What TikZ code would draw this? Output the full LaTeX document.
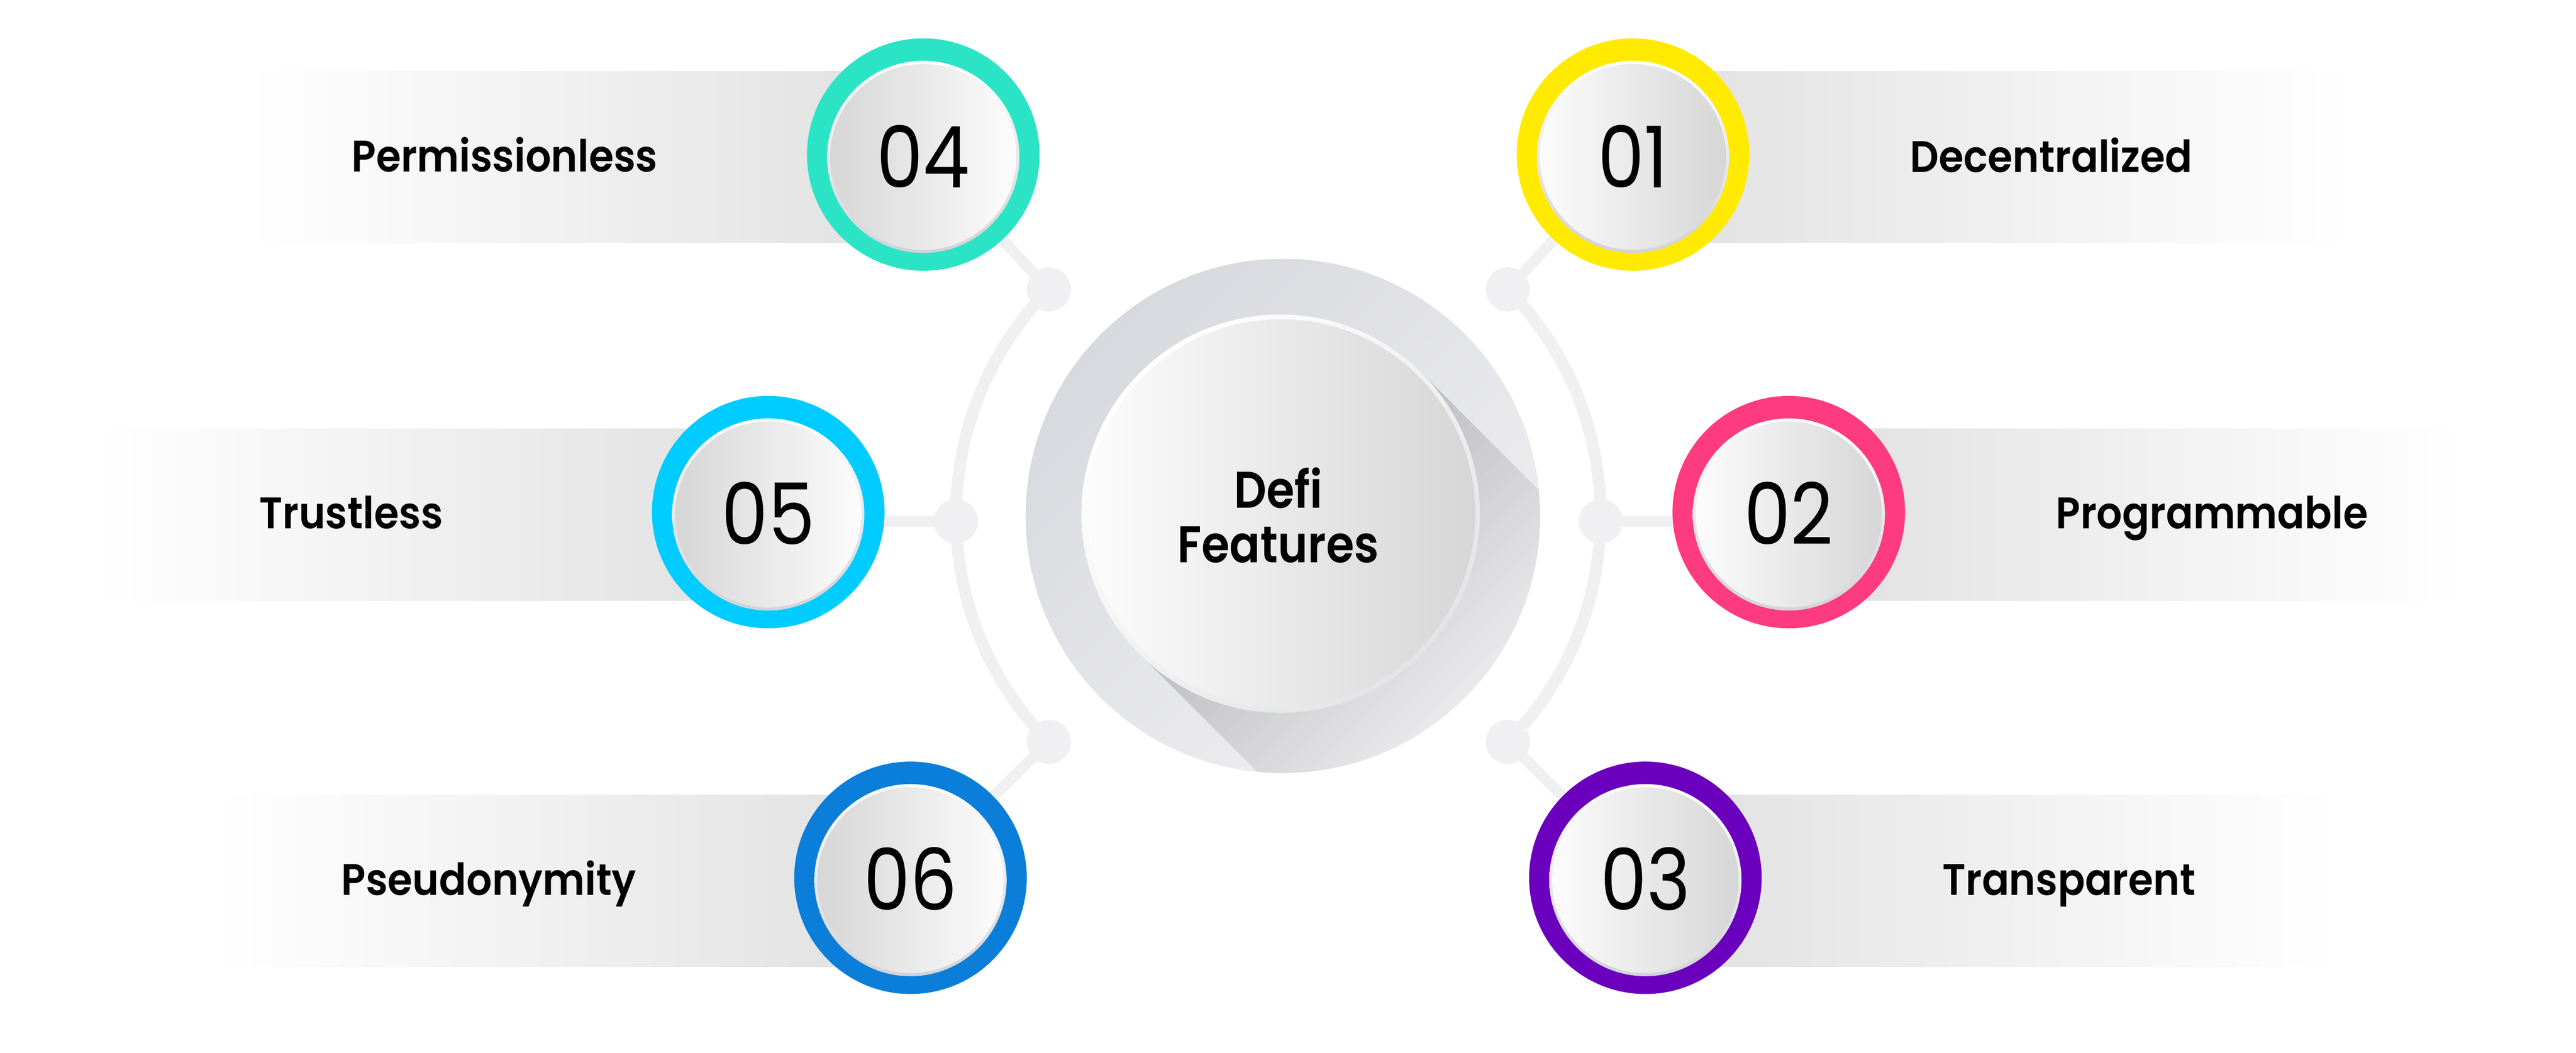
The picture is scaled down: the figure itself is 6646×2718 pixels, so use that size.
\documentclass[tikz,border=0pt]{standalone}
\usepackage{fontspec}
\setmainfont{Poppins}
\newfontfamily\popmed{Poppins SemiBold}
\usetikzlibrary{calc}
\definecolor{teal4}{HTML}{2BE4C6}
\definecolor{yel1}{HTML}{FFEA00}
\definecolor{cyan5}{HTML}{00CCFF}
\definecolor{pink2}{HTML}{FF3B7F}
\definecolor{blue6}{HTML}{0A7ED9}
\definecolor{purp3}{HTML}{6A00BD}
\definecolor{bannerc}{HTML}{E0E0E0}
\definecolor{linkc}{HTML}{F0F0F2}
\definecolor{rimgray}{HTML}{D2D3D8}
\definecolor{diskdark}{HTML}{D6D6D6}
\definecolor{diskwhite}{HTML}{FCFCFC}
\definecolor{outerA}{HTML}{D8D9DE}
\definecolor{outerB}{HTML}{F0F0F2}
\definecolor{mainrim}{HTML}{E3E4E7}
\pgfdeclarelayer{bglayer}
\pgfdeclarelayer{bannerlayer}
\pgfdeclarelayer{linklayer}
\pgfsetlayers{bglayer,bannerlayer,linklayer,main}
\tikzset{
  ring/.style={circle, fill=#1, minimum size=60pt, inner sep=0pt, draw=none},
  linkdot/.style={circle, fill=linkc, minimum size=11.4pt, inner sep=0pt, draw=none},
  arcline/.style={draw=linkc, line width=3.1pt},
  stubline/.style={draw=linkc, line width=2.8pt},
  lbl/.style={font=\popmed\addfontfeatures{FakeStretch=0.91}\fontsize{11.4}{13}\selectfont, anchor=base, inner sep=0pt},
  num/.style={font=\addfontfeatures{FakeStretch=0.87}\fontsize{22}{24}\selectfont, anchor=base, inner sep=0pt},
  rimshade/.style={top color=white, bottom color=rimgray},
  diskright/.style={left color=diskwhite, right color=diskdark},
  diskleft/.style={left color=diskdark, right color=diskwhite},
  bannerleft/.style={left color=white, right color=bannerc},
  bannerright/.style={left color=bannerc, right color=white},
}
\newcommand\itemdisk[2]{%
  \shade[rimshade] ($(#1.center)+(0,6)$) circle[radius=248];
  \shade[#2] ($(#1.center)+(0,6)$) circle[radius=240];
}
\begin{document}
\begin{tikzpicture}[x=0.1pt,y=-0.1pt]
\useasboundingbox (0,0) rectangle (6646,2718);
\begin{pgfonlayer}{bglayer}
  \fill[white] (0,0) rectangle (6646,2718);
\end{pgfonlayer}

% link dots
\node[linkdot] (dUL) at (2706,747) {};
\node[linkdot] (dML) at (2466,1346) {};
\node[linkdot] (dLL) at (2706,1915) {};
\node[linkdot] (dUR) at (3890,747) {};
\node[linkdot] (dMR) at (4130,1346) {};
\node[linkdot] (dLR) at (3890,1915) {};

% main circle
\node[circle, minimum size=132.8pt, inner sep=0pt, draw=none,
      top color=outerA, bottom color=outerB, shading angle=45] (main) at (3310,1332) {};
\begin{scope}
  \clip (3310,1332) circle[radius=663];
  \begin{scope}[shift={(3304,1326)}, rotate=-45]
    \foreach \b in {20,40,...,800} {
      \fill[black, opacity=0.004] (0,-514) -- (\b,-514) -- (\b,514) -- (0,514) -- cycle;
    }
  \end{scope}
\end{scope}
\shade[top color=white, bottom color=mainrim, shading angle=45] (3304,1326) circle[radius=514];
\shade[left color=diskwhite, right color=diskdark] (3305,1325) circle[radius=501];
\node[font=\popmed\addfontfeatures{FakeStretch=0.88}\fontsize{13.3}{14}\selectfont, align=center, inner sep=0pt] (title) at (3298,1330) {Defi\\Features};

% item circles
\node[ring=teal4] (c4) at (2382,399) {};
\node[ring=yel1]  (c1) at (4213,399) {};
\node[ring=cyan5] (c5) at (1982,1322) {};
\node[ring=pink2] (c2) at (4615,1322) {};
\node[ring=blue6] (c6) at (2349,2266) {};
\node[ring=purp3] (c3) at (4245,2266) {};
\itemdisk{c4}{diskleft}
\itemdisk{c5}{diskleft}
\itemdisk{c6}{diskleft}
\itemdisk{c1}{diskright}
\itemdisk{c2}{diskright}
\itemdisk{c3}{diskright}

% numbers
\node[num] (n4) at (2382,484) {04};
\node[num] (n1) at (4213,484) {01};
\node[num] (n5) at (1982,1406) {05};
\node[num] (n2) at (4615,1406) {02};
\node[num] (n6) at (2349,2350) {06};
\node[num] (n3) at (4245,2350) {03};

% labels
\node[lbl] (t4) at (1302,443) {Permissionless};
\node[lbl] (t1) at (5292,445) {Decentralized};
\node[lbl] (t5) at (906,1365) {Trustless};
\node[lbl] (t2) at (5707,1365) {Programmable};
\node[lbl] (t6) at (1261,2311) {Pseudonymity};
\node[lbl] (t3) at (5338,2311) {Transparent};

% connectors
\begin{pgfonlayer}{linklayer}
  \draw[arcline] (dUL.center) arc[start angle=224.6, end angle=135.4, radius=832];
  \draw[arcline] (dUR.center) arc[start angle=-44.6, end angle=44.6, radius=832];
  \draw[stubline] (dUL.center) -- (c4.center);
  \draw[stubline] (dML.center) -- (dML.center -| c5.center);
  \draw[stubline] (dLL.center) -- (c6.center);
  \draw[stubline] (dUR.center) -- (c1.center);
  \draw[stubline] (dMR.center) -- (dMR.center -| c2.center);
  \draw[stubline] (dLR.center) -- (c3.center);
\end{pgfonlayer}

% banners
\begin{pgfonlayer}{bannerlayer}
  \shade[bannerleft]  (640,184)   rectangle (2382,627);
  \shade[bannerleft]  (250,1107)  rectangle (1982,1550);
  \shade[bannerleft]  (560,2052)  rectangle (2349,2495);
  \shade[bannerright] (4213,184)  rectangle (6060,627);
  \shade[bannerright] (4615,1107) rectangle (6350,1550);
  \shade[bannerright] (4245,2052) rectangle (6030,2495);
\end{pgfonlayer}
\end{tikzpicture}
\end{document}
